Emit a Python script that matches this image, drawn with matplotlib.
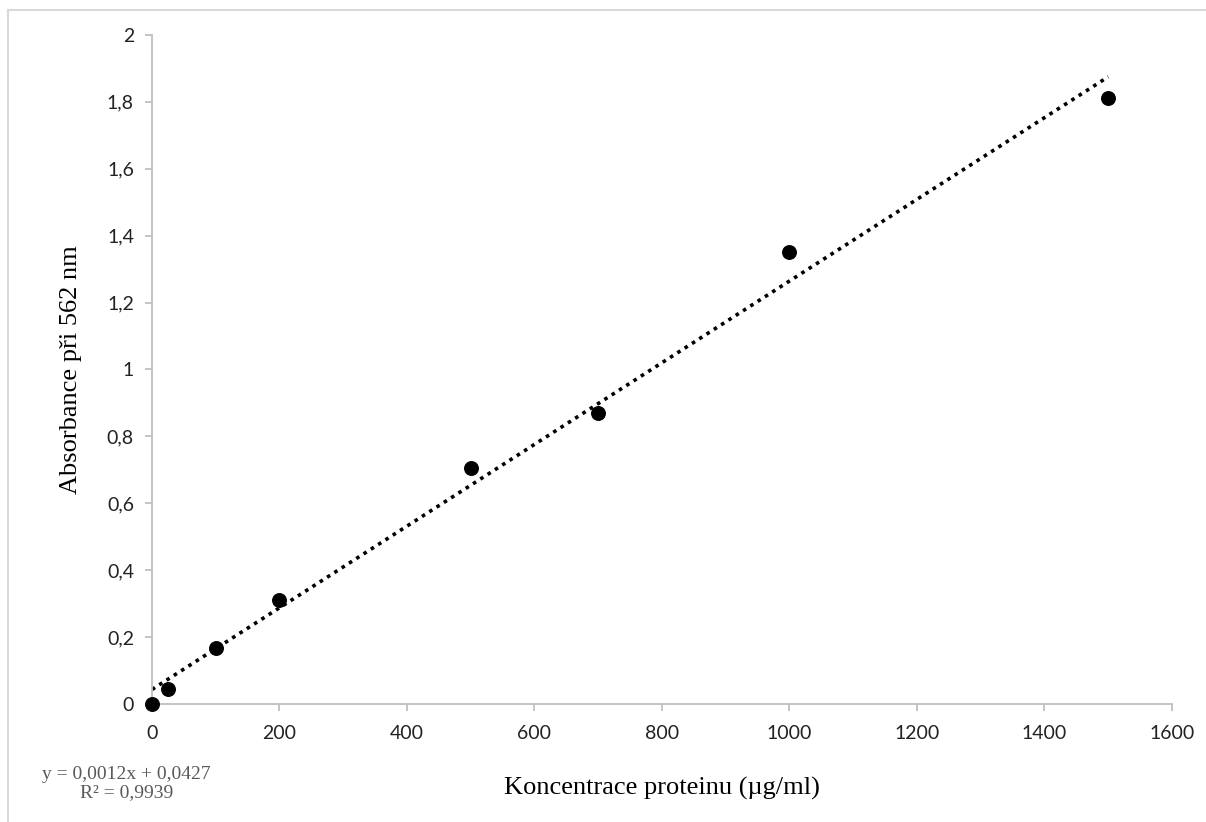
import numpy as np
import matplotlib.pyplot as plt
from matplotlib.ticker import FuncFormatter, MultipleLocator
from matplotlib.lines import Line2D

conc = [0, 25, 100, 200, 500, 700, 1000, 1500]
absorb = [0.0, 0.045, 0.168, 0.312, 0.705, 0.869, 1.352, 1.81]
eq_text = "y = 0,0012x + 0,0427\nR² = 0,9939"

fig = plt.figure(figsize=(12.06, 8.22), dpi=100)
ax = fig.add_axes([0.126, 0.1436, 0.8458, 0.8139])

# trend line from fit
k, q = np.polyfit(conc, absorb, 1)
xt = np.array([0, 1500])
ax.plot(xt, k * xt + q, color='black', ls=(0, (1, 1.4)), lw=2.6, zorder=2)
ax.scatter(conc, absorb, s=95, color='black', zorder=3, clip_on=False)

ax.set_xlim(0, 1600)
ax.set_ylim(0, 2)
ax.xaxis.set_major_locator(MultipleLocator(200))
ax.yaxis.set_major_locator(MultipleLocator(0.2))
fmt = lambda v, p: ('%g' % round(v, 1)).replace('.', ',')
ax.xaxis.set_major_formatter(FuncFormatter(fmt))
ax.yaxis.set_major_formatter(FuncFormatter(fmt))

for s in ['top', 'right']:
    ax.spines[s].set_visible(False)
for s in ['left', 'bottom']:
    ax.spines[s].set_color('#bfbfbf')
    ax.spines[s].set_linewidth(1.3)
ax.tick_params(direction='out', length=5, color='#bfbfbf', width=1.3,
               labelsize=14, pad=8)
ax.tick_params(axis='x', pad=10)
for lab in ax.get_xticklabels() + ax.get_yticklabels():
    lab.set_family('Lato')
    lab.set_color('#222222')

ax.set_xlabel('Koncentrace proteinu (µg/ml)', family='Liberation Serif',
              fontsize=19, labelpad=25)
ax.set_ylabel('Absorbance při 562 nm', family='Liberation Serif',
              fontsize=19, labelpad=18)

fig.text(0.105, 0.025, eq_text, family='Liberation Serif', fontsize=14,
         color='#595959', ha='center', va='bottom', linespacing=1.1)

# outer chart frame (left and top edges visible)
fig.add_artist(Line2D([0.0066, 0.0066], [0.0, 0.988], color='#d9d9d9', lw=1.5))
fig.add_artist(Line2D([0.0066, 1.0], [0.988, 0.988], color='#d9d9d9', lw=1.5))

fig.savefig('out.png', dpi=100, facecolor='white')
